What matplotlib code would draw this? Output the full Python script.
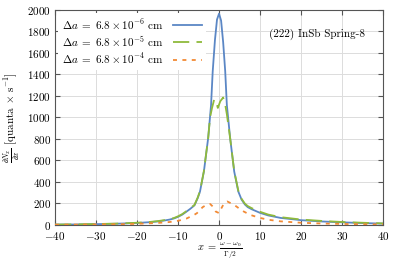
import numpy as np
import matplotlib
matplotlib.use("Agg")
import matplotlib.pyplot as plt

plt.rcParams.update({
    "font.family": "serif",
    "font.serif": ["cmr10"],
    "mathtext.fontset": "cm",
    "axes.formatter.use_mathtext": True,
    "font.size": 8,
})

x_blue = [-40, -35, -30, -25, -20, -17, -15, -13, -12, -11, -10, -9, -8, -7, -6, -5.2, -4.65, -3.7,
          -2.65, -1.95, -1.55, -1, -0.5, 0, 0.5, 1, 1.5, 1.9, 2.7, 3.7, 4.7, 5.5, 6.3, 7, 8, 10, 12,
          15, 20, 25, 30, 35, 40]
y_blue = [3, 4, 7, 11, 18, 25, 32, 43, 50, 60, 75, 95, 122, 150, 182, 250, 310, 496,
          809, 1116, 1426, 1720, 1910, 1965, 1900, 1700, 1430, 1116, 809, 496, 310, 235, 190, 165, 145, 112, 88,
          65, 44, 32, 24, 17, 12]

x_green = [-40, -35, -30, -25, -20, -17, -15, -13, -12, -11, -10, -9, -8, -7, -6, -5.2, -4.65, -3.7,
           -2.65, -2.2, -1.7, -1.2, -0.8, -0.3, 0.3, 1, 1.5, 1.9, 2.7, 3.7, 4.7, 5.5, 6.3, 7, 8, 10, 12,
           15, 20, 25, 30, 35, 40]
y_green = [3, 5, 8, 12, 20, 27, 35, 46, 54, 64, 80, 100, 127, 155, 186, 255, 315, 500,
           809, 1000, 1090, 1165, 1160, 1088, 1150, 1185, 1120, 1030, 809, 500, 318, 242, 198, 175, 155, 122, 96,
           72, 50, 37, 27, 20, 14]

x_orange = [-40, -35, -30, -25, -20, -15, -12, -10, -8, -6, -5.4, -4, -3, -2.2, -1.5, -0.8, 0,
            0.5, 1, 1.5, 2, 2.7, 3.7, 5, 6, 7.6, 10, 12, 15, 20, 25, 30, 35, 40]
y_orange = [2, 3, 4, 6, 10, 18, 27, 38, 58, 95, 109, 165, 188, 195, 170, 124, 110,
            150, 185, 210, 218, 205, 186, 150, 125, 93, 65, 48, 33, 20, 13, 9, 6, 4]

labels = [r"$\Delta a\;=\;6.8\times10^{-6}$ cm",
          r"$\Delta a\;=\;6.8\times10^{-5}$ cm",
          r"$\Delta a\;=\;6.8\times10^{-4}$ cm"]

fig = plt.figure(figsize=(3.99, 2.60), dpi=100)
ax = fig.add_axes([0.138, 0.135, 0.822, 0.827])

ax.plot(x_blue, y_blue, color="#5b87c5", lw=1.3, label=labels[0], zorder=3)
ax.plot(x_green, y_green, color="#8fba3c", lw=1.3, dashes=(9, 4), label=labels[1], zorder=4)
ax.plot(x_orange, y_orange, color="#f28a35", lw=1.3, dashes=(2.2, 3), label=labels[2], zorder=5)

ax.set_xlim(-40, 40)
ax.set_ylim(0, 2000)
ax.set_xticks(np.arange(-40, 41, 10))
ax.set_yticks(np.arange(0, 2001, 200))
ax.grid(True, color="#dcdcdc", lw=0.7)
ax.set_axisbelow(True)
for s in ax.spines.values():
    s.set_color("#555555")
    s.set_linewidth(0.8)
ax.tick_params(direction="in", top=True, right=True, length=3.5, width=0.8,
               color="#555555", labelsize=8)
ax.tick_params(axis="x", pad=4)
ax.tick_params(axis="y", pad=3)

ax.set_xlabel(r"$x\;=\;\frac{\omega-\omega_0}{\Gamma/2}$", fontsize=7.5, labelpad=-1)
ax.set_ylabel(r"$\frac{\partial N_x}{\partial x}$ [quanta $\times$ s$^{-1}$]", fontsize=8, labelpad=4)

leg = ax.legend(loc="upper left", markerfirst=False, handlelength=2.6, handletextpad=0.8,
                labelspacing=0.2, borderaxespad=0.25, fontsize=8, frameon=True,
                fancybox=False, framealpha=1)
leg.get_frame().set_edgecolor("none")

ax.text(24, 1770, "(222) InSb Spring-8", ha="center", va="center", fontsize=8)

fig.savefig("out.png", dpi=100)
